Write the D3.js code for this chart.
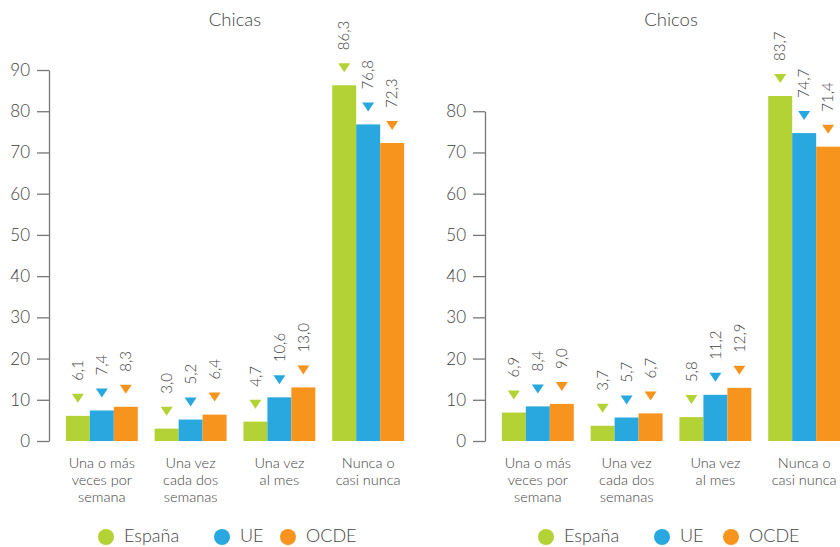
<!DOCTYPE html>
<html><head><meta charset="utf-8">
<script src="https://cdn.jsdelivr.net/npm/d3@7"></script>
<style>
html,body{margin:0;padding:0;background:#fff;}
svg{display:block;font-family:Lato,"Open Sans",sans-serif;font-weight:300;}
</style></head>
<body><svg id="chart" width="840" height="547"></svg>
<script>
const categories = [["Una o más","veces por","semana"],["Una vez","cada dos","semanas"],["Una vez","al mes"],["Nunca o","casi nunca"]];
const seriesNames = ["España","UE","OCDE"];
const seriesColors = ["#b2d235","#29a8e0","#f7941d"];
const chicasEspana = [6.1, 3.0, 4.7, 86.3];
const chicasUE     = [7.4, 5.2, 10.6, 76.8];
const chicasOCDE   = [8.3, 6.4, 13.0, 72.3];
const chicosEspana = [6.9, 3.7, 5.8, 83.7];
const chicosUE     = [8.4, 5.7, 11.2, 74.7];
const chicosOCDE   = [9.0, 6.7, 12.9, 71.4];
const chicasTicks = [0,10,20,30,40,50,60,70,80,90];
const chicosTicks = [0,10,20,30,40,50,60,70,80];

const svg = d3.select("#chart");
const fmt = d3.formatLocale({decimal:",",thousands:".",grouping:[3],currency:["","€"]}).format(".1f");

function panel(opts){
  const g = svg.append("g");
  const y = d3.scaleLinear().domain([0, opts.max]).range([441, 441 - opts.max*4.122]);
  const x0 = d3.scaleBand().domain(d3.range(categories.length)).range([opts.x, opts.x + 372]).paddingInner(0.19).paddingOuter(0.19);
  const x1 = d3.scaleBand().domain(d3.range(seriesNames.length)).range([0, x0.bandwidth()]);
  const data = [];
  categories.forEach((c,i)=>{
    opts.series.forEach((s,j)=>{ data.push({i, j, v: s[i]}); });
  });
  // axis
  const ax = g.append("g").attr("transform",`translate(${opts.x},0)`)
    .call(d3.axisLeft(y).tickValues(opts.ticks).tickSize(12).tickSizeOuter(0).tickPadding(7));
  ax.select(".domain").attr("stroke","#777").attr("stroke-width",1.3);
  ax.selectAll(".tick line").attr("stroke","#777").attr("stroke-width",1.3);
  ax.selectAll(".tick text").attr("fill","#3d3d3d").style("font-size","17px").style("font-family","Lato,'Open Sans',sans-serif").style("font-weight","300");
  // bars
  g.selectAll("rect.bar").data(data).join("rect").attr("class","bar")
    .attr("x", d=>x0(d.i)+x1(d.j)).attr("width", x1.bandwidth())
    .attr("y", d=>y(d.v)).attr("height", d=>y(0)-y(d.v))
    .attr("fill", d=>seriesColors[d.j]);
  // triangles
  g.selectAll("path.tri").data(data).join("path").attr("class","tri")
    .attr("d", d=>{
      const cx = x0(d.i)+x1(d.j)+x1.bandwidth()/2, b = y(d.v)-13;
      return `M${cx-6},${b-9}L${cx+6},${b-9}L${cx},${b}Z`;
    })
    .attr("fill", d=>seriesColors[d.j]);
  // value labels
  g.selectAll("text.val").data(data).join("text").attr("class","val")
    .attr("transform", d=>`translate(${x0(d.i)+x1(d.j)+x1.bandwidth()/2},${y(d.v)-35}) rotate(-90)`)
    .attr("dy","0.35em").attr("text-anchor","start")
    .attr("fill","#444").style("font-size","15px")
    .text(d=>fmt(d.v));
  // category labels
  const cl = g.selectAll("text.cat").data(categories).join("text").attr("class","cat")
    .attr("x",(d,i)=>x0(i)+x0.bandwidth()/2).attr("y",468)
    .attr("text-anchor","middle").attr("fill","#444").style("font-size","14.5px");
  cl.selectAll("tspan").data(d=>d).join("tspan")
    .attr("x", function(){ return this.parentNode.getAttribute("x"); })
    .attr("dy",(d,k)=>k===0?0:17).text(d=>d);
  // title
  g.append("text").attr("x", opts.x+186).attr("y",26).attr("text-anchor","middle")
    .attr("fill","#444").style("font-size","18.5px").text(opts.title);
  // legend
  const lg = g.append("g");
  seriesNames.forEach((n,j)=>{
    lg.append("circle").attr("cx", opts.legend[j]).attr("cy",537).attr("r",8).attr("fill",seriesColors[j]);
    lg.append("text").attr("x", opts.legend[j]+18).attr("y",536).attr("dy","0.35em")
      .attr("fill","#444").style("font-size","18px").text(n);
  });
}

panel({x:49, max:90, ticks:chicasTicks, series:[chicasEspana,chicasUE,chicasOCDE], title:"Chicas", legend:[106,222,288]});
panel({x:485, max:80, ticks:chicosTicks, series:[chicosEspana,chicosUE,chicosOCDE], title:"Chicos", legend:[546,662,731]});
</script></body></html>
